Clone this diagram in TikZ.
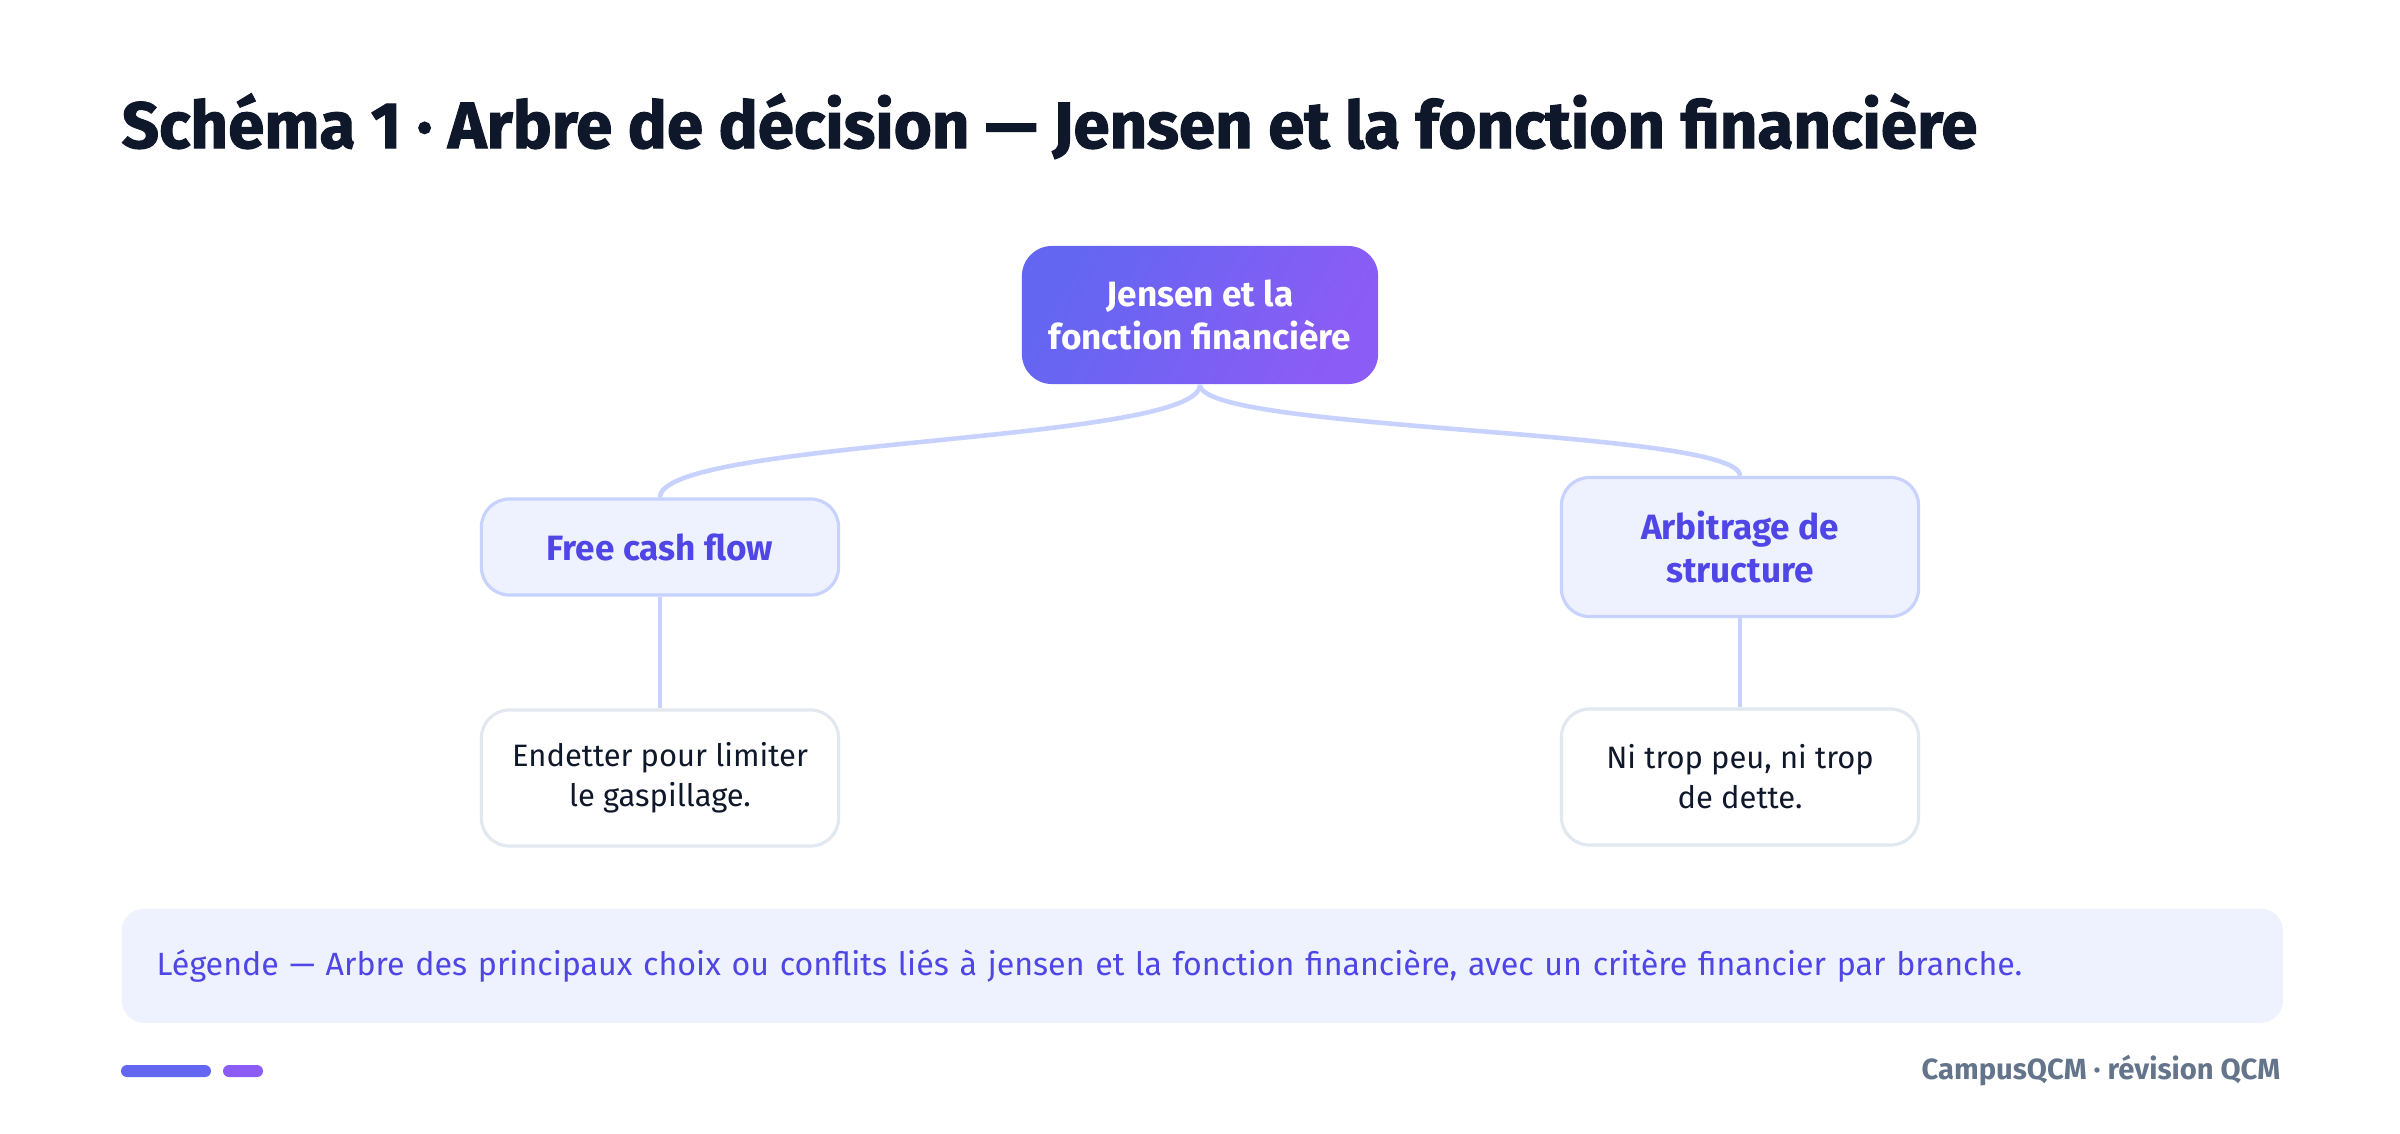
\documentclass[tikz,border=0pt]{standalone}
\usepackage{fontspec}
\setmainfont{Fira Sans}
\newfontfamily\titlefont{Fira Sans}[BoldFeatures={FakeBold=1.6}]
\definecolor{ink}{HTML}{0F172A}
\definecolor{indigo}{HTML}{6366F1}
\definecolor{violet}{HTML}{8B5CF6}
\definecolor{branchtxt}{HTML}{4F46E5}
\definecolor{branchfill}{HTML}{EEF2FF}
\definecolor{branchline}{HTML}{C7D2FE}
\definecolor{leafline}{HTML}{E2E8F0}
\definecolor{muted}{HTML}{64748B}

\begin{document}
\begin{tikzpicture}[x=0.01cm,y=-0.01cm,
    rootbox/.style={rounded corners=0.3cm, left color=indigo, right color=violet,
      shading angle=60, text=white, font=\fontsize{10}{12.2}\selectfont\bfseries,
      align=center, minimum width=3.56cm, minimum height=1.38cm},
    branch/.style={draw=branchline, line width=0.9pt, fill=branchfill, rounded corners=0.28cm,
      text=branchtxt, font=\fontsize{10}{12.2}\selectfont\bfseries, align=center,
      minimum width=3.57cm, minimum height=0.96cm},
    leaf/.style={draw=leafline, line width=0.9pt, fill=white, rounded corners=0.28cm,
      text=ink, font=\fontsize{8.8}{11.4}\selectfont, align=center,
      minimum width=3.57cm, minimum height=1.36cm},
    link/.style={draw=branchline, line width=1.3pt}]
   \useasboundingbox (0,0) rectangle (2400,1133);

   \node[anchor=base west, inner sep=0, text=ink, font=\fontsize{18.6}{22}\selectfont\titlefont\bfseries] (title)
      at (121,148) {Schéma 1 · Arbre de décision — Jensen et la fonction financière};

   \node[rootbox] (root) at (1200,315) {Jensen et la\\fonction financière};
   \node[branch] (fcf) at (660,547) {Free cash flow};
   \node[branch, minimum height=1.39cm] (arb) at (1740,547) {Arbitrage de\\structure};
   \node[leaf] (debt) at (660,778) {Endetter pour limiter\\le gaspillage.};
   \node[leaf] (mix) at (1740,777) {Ni trop peu, ni trop\\de dette.};

   \path (root.south) edge[link, out=-90, in=90, looseness=.27] (fcf.north);
   \path (root.south) edge[link, out=-90, in=90, looseness=.22] (arb.north);
   \path (fcf) edge[link] (debt);
   \path (arb) edge[link] (mix);

   \node[anchor=north west, fill=branchfill, rounded corners=0.22cm, text=branchtxt,
      font=\fontsize{9.15}{11}\selectfont, align=left, text width=20.9cm, inner xsep=0.35cm,
      minimum height=1.14cm] (legend) at (121,908)
      {Légende — Arbre des principaux choix ou conflits liés à jensen et la fonction financière, avec un critère financier par branche.};

   \fill[indigo, rounded corners=0.06cm] (121,1065) rectangle (211,1077);
   \fill[violet, rounded corners=0.06cm] (223,1065) rectangle (263,1077);
   \node[anchor=east, inner xsep=0, text=muted, font=\fontsize{8.3}{10}\selectfont\bfseries] (brand)
      at (2281,1071) {CampusQCM · révision QCM};
\end{tikzpicture}
\end{document}
